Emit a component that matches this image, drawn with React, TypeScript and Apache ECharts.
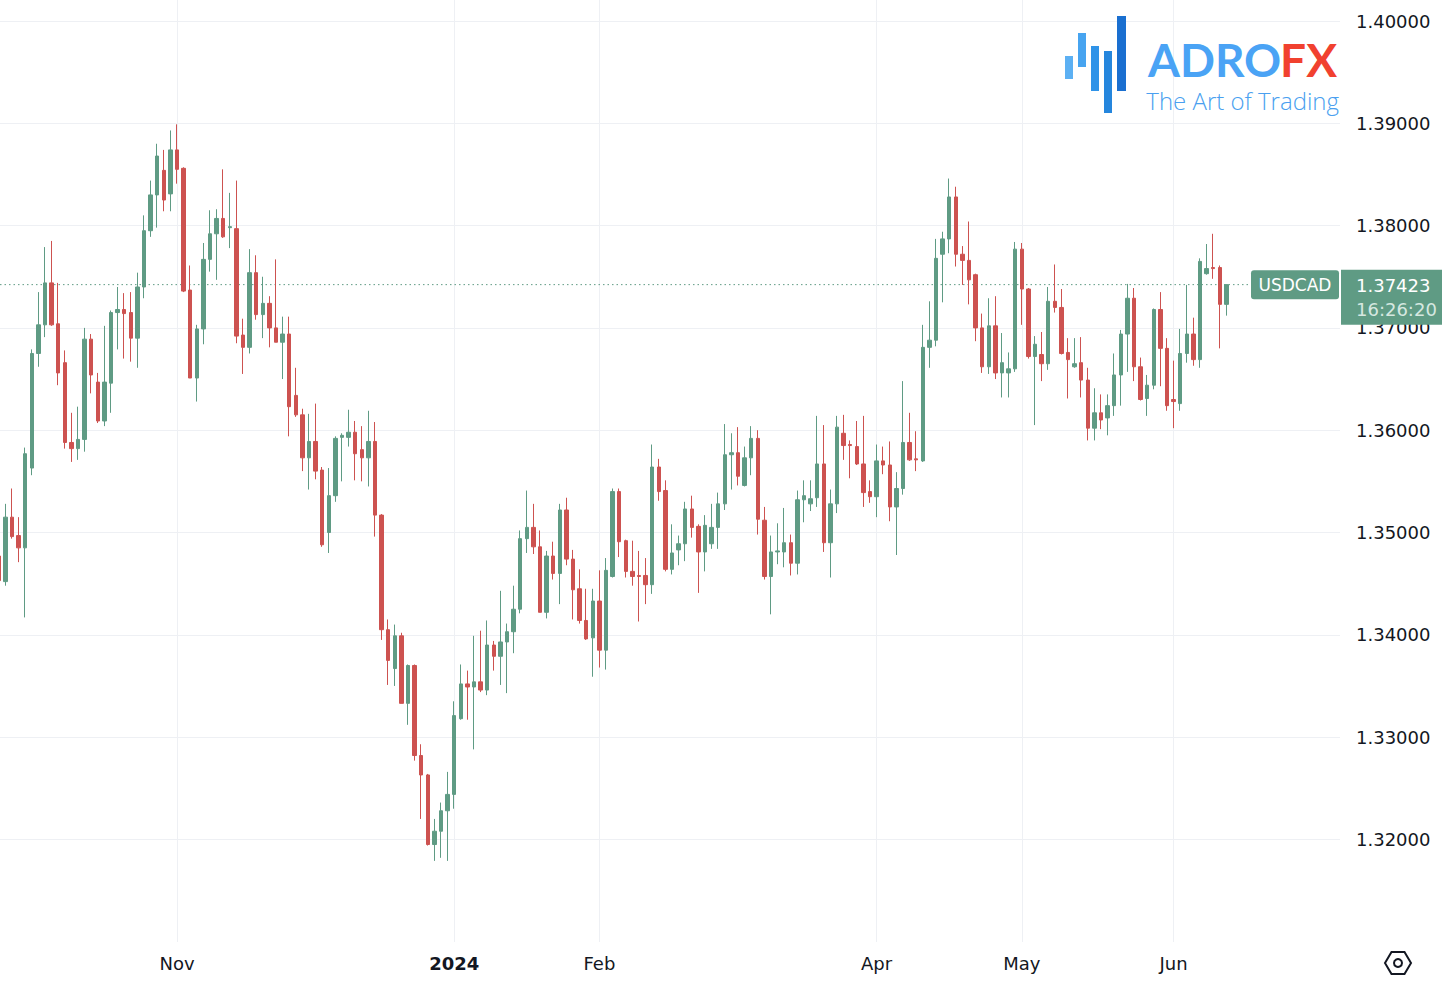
import React, { useEffect, useRef } from "react";
import * as echarts from "echarts";

// ---- data ----
const symbol = "USDCAD";
const lastTime = "16:26:20";
const startDate = "2023-09-25";
const holidays = ["2023-12-25", "2024-01-01"];

// daily candles: [open, high, low, close]
const candles: number[][] = [
  [1.3477, 1.3488, 1.3447, 1.3453],
  [1.3452, 1.3528, 1.3448, 1.3515],
  [1.3515, 1.3543, 1.3494, 1.3496],
  [1.3497, 1.3515, 1.3471, 1.3485],
  [1.3485, 1.3583, 1.3417, 1.3577],
  [1.3563, 1.3679, 1.3556, 1.3675],
  [1.3675, 1.3735, 1.3662, 1.3703],
  [1.3703, 1.3779, 1.3691, 1.3744],
  [1.3744, 1.3785, 1.3702, 1.3703],
  [1.3704, 1.3744, 1.3644, 1.3656],
  [1.3666, 1.3678, 1.3582, 1.3588],
  [1.3588, 1.3617, 1.3569, 1.3582],
  [1.3582, 1.3623, 1.3571, 1.3591],
  [1.3591, 1.37, 1.3579, 1.3689],
  [1.3689, 1.3694, 1.3636, 1.3654],
  [1.3647, 1.3656, 1.3607, 1.3609],
  [1.3609, 1.3702, 1.3604, 1.3647],
  [1.3646, 1.3717, 1.3617, 1.3715],
  [1.3715, 1.374, 1.3679, 1.3718],
  [1.3718, 1.3734, 1.367, 1.3714],
  [1.3715, 1.3735, 1.3667, 1.369],
  [1.369, 1.3754, 1.3661, 1.374],
  [1.374, 1.381, 1.3729, 1.3795],
  [1.3795, 1.3844, 1.3789, 1.383],
  [1.383, 1.388, 1.3798, 1.3868],
  [1.3854, 1.3874, 1.3814, 1.3825],
  [1.3831, 1.3893, 1.3814, 1.3874],
  [1.3874, 1.3899, 1.3841, 1.3855],
  [1.3856, 1.3857, 1.3735, 1.3736],
  [1.3737, 1.3761, 1.3651, 1.3651],
  [1.3651, 1.3703, 1.3628, 1.3699],
  [1.3699, 1.3783, 1.3684, 1.3767],
  [1.3767, 1.3815, 1.3755, 1.3792],
  [1.3792, 1.3816, 1.3747, 1.3807],
  [1.3807, 1.3855, 1.3788, 1.3789],
  [1.3798, 1.3832, 1.3778, 1.3799],
  [1.3797, 1.3844, 1.3685, 1.3692],
  [1.3693, 1.3709, 1.3655, 1.3681],
  [1.3681, 1.3777, 1.3675, 1.3754],
  [1.3754, 1.3771, 1.3708, 1.3713],
  [1.3713, 1.375, 1.369, 1.3724],
  [1.3724, 1.3731, 1.3681, 1.37],
  [1.37, 1.3767, 1.3686, 1.3686],
  [1.3686, 1.3711, 1.365, 1.3694],
  [1.3694, 1.3711, 1.3594, 1.3623],
  [1.3634, 1.3661, 1.3613, 1.3615],
  [1.3615, 1.3621, 1.356, 1.3573],
  [1.3573, 1.3616, 1.3542, 1.3589],
  [1.3589, 1.3626, 1.3552, 1.356],
  [1.3561, 1.3564, 1.3486, 1.3488],
  [1.35, 1.3563, 1.348, 1.3536],
  [1.3536, 1.3594, 1.353, 1.3592],
  [1.3593, 1.3597, 1.355, 1.3595],
  [1.3593, 1.362, 1.3584, 1.3598],
  [1.3598, 1.3609, 1.3551, 1.3577],
  [1.3581, 1.3604, 1.355, 1.3573],
  [1.3573, 1.3619, 1.3545, 1.3589],
  [1.3589, 1.3608, 1.3496, 1.3517],
  [1.3517, 1.3518, 1.3395, 1.3405],
  [1.3405, 1.3415, 1.3351, 1.3375],
  [1.3367, 1.341, 1.335, 1.3399],
  [1.3399, 1.3402, 1.3333, 1.3333],
  [1.3333, 1.3371, 1.3312, 1.337],
  [1.337, 1.3371, 1.3277, 1.3282],
  [1.3282, 1.3293, 1.322, 1.3263],
  [1.3263, 1.3264, 1.3194, 1.3195],
  [1.3195, 1.322, 1.3179, 1.3208],
  [1.3208, 1.3236, 1.3182, 1.3228],
  [1.3228, 1.3266, 1.3179, 1.3244],
  [1.3244, 1.3335, 1.323, 1.3321],
  [1.3318, 1.3371, 1.3317, 1.3352],
  [1.3352, 1.3365, 1.3317, 1.3349],
  [1.3349, 1.3399, 1.3288, 1.3354],
  [1.3354, 1.3404, 1.3344, 1.3346],
  [1.3346, 1.3414, 1.3341, 1.339],
  [1.339, 1.3394, 1.3365, 1.3379],
  [1.3379, 1.3443, 1.3351, 1.3393],
  [1.3393, 1.3411, 1.3343, 1.3403],
  [1.3403, 1.3448, 1.3382, 1.3425],
  [1.3425, 1.3502, 1.3421, 1.3494],
  [1.3494, 1.3541, 1.348, 1.3505],
  [1.3505, 1.3528, 1.3479, 1.3486],
  [1.3486, 1.3502, 1.3422, 1.3422],
  [1.3422, 1.3482, 1.3416, 1.3477],
  [1.3477, 1.3491, 1.3454, 1.346],
  [1.346, 1.3528, 1.343, 1.3522],
  [1.3522, 1.3534, 1.3468, 1.3474],
  [1.3474, 1.3483, 1.3415, 1.3444],
  [1.3445, 1.3464, 1.3411, 1.3414],
  [1.3414, 1.3445, 1.3395, 1.3396],
  [1.3397, 1.3445, 1.3359, 1.3433],
  [1.3433, 1.3463, 1.3368, 1.3385],
  [1.3385, 1.3475, 1.3366, 1.3463],
  [1.3457, 1.3543, 1.3456, 1.354],
  [1.354, 1.3543, 1.3476, 1.3491],
  [1.3492, 1.3493, 1.3456, 1.3462],
  [1.3462, 1.3492, 1.3448, 1.3457],
  [1.3458, 1.3482, 1.3413, 1.3457],
  [1.3458, 1.3475, 1.343, 1.3449],
  [1.3449, 1.3586, 1.344, 1.3564],
  [1.3564, 1.3572, 1.3531, 1.354],
  [1.3541, 1.3551, 1.3462, 1.3464],
  [1.3464, 1.3508, 1.3459, 1.348],
  [1.3483, 1.3497, 1.3468, 1.3489],
  [1.3489, 1.353, 1.3472, 1.3523],
  [1.3523, 1.3536, 1.3495, 1.3505],
  [1.3506, 1.3508, 1.3441, 1.3481],
  [1.3481, 1.3517, 1.3462, 1.3507],
  [1.3489, 1.3528, 1.3484, 1.3505],
  [1.3505, 1.3539, 1.3484, 1.3528],
  [1.3528, 1.3606, 1.3522, 1.3576],
  [1.3576, 1.3597, 1.3542, 1.3578],
  [1.3578, 1.3603, 1.3546, 1.3555],
  [1.3546, 1.3584, 1.3545, 1.3573],
  [1.3573, 1.3604, 1.3556, 1.3592],
  [1.3592, 1.36, 1.3498, 1.3513],
  [1.3512, 1.3525, 1.3454, 1.3457],
  [1.3457, 1.3497, 1.342, 1.3481],
  [1.3481, 1.3509, 1.3469, 1.3482],
  [1.3481, 1.3524, 1.3466, 1.349],
  [1.349, 1.3498, 1.3458, 1.347],
  [1.347, 1.3541, 1.3459, 1.3532],
  [1.3532, 1.3551, 1.351, 1.3536],
  [1.3528, 1.3551, 1.3521, 1.3533],
  [1.3534, 1.3614, 1.3525, 1.3567],
  [1.3567, 1.3605, 1.3481, 1.349],
  [1.349, 1.3542, 1.3456, 1.3528],
  [1.3528, 1.3614, 1.3519, 1.3603],
  [1.3597, 1.3615, 1.3571, 1.3585],
  [1.3586, 1.359, 1.3553, 1.3585],
  [1.3584, 1.3609, 1.3566, 1.3567],
  [1.3567, 1.3614, 1.3525, 1.3539],
  [1.354, 1.3551, 1.3529, 1.3535],
  [1.3535, 1.3586, 1.3515, 1.357],
  [1.357, 1.3584, 1.3557, 1.3566],
  [1.3566, 1.3589, 1.3511, 1.3525],
  [1.3525, 1.3559, 1.3478, 1.3543],
  [1.3543, 1.3648, 1.3537, 1.3588],
  [1.3588, 1.3617, 1.357, 1.3571],
  [1.3572, 1.3599, 1.356, 1.3571],
  [1.357, 1.3703, 1.3569, 1.3681],
  [1.3681, 1.3726, 1.3661, 1.3688],
  [1.3688, 1.3787, 1.3682, 1.3768],
  [1.3772, 1.3794, 1.3725, 1.3787],
  [1.3787, 1.3846, 1.3773, 1.3828],
  [1.3828, 1.3838, 1.376, 1.3772],
  [1.3772, 1.378, 1.3742, 1.3766],
  [1.3766, 1.3804, 1.3723, 1.3747],
  [1.3752, 1.3753, 1.3687, 1.37],
  [1.37, 1.3714, 1.3656, 1.3662],
  [1.3662, 1.3729, 1.3655, 1.3702],
  [1.3702, 1.3731, 1.365, 1.3656],
  [1.3656, 1.3695, 1.3632, 1.3666],
  [1.3656, 1.3676, 1.3632, 1.366],
  [1.366, 1.3784, 1.3657, 1.3777],
  [1.3777, 1.3783, 1.3703, 1.3738],
  [1.3738, 1.3739, 1.367, 1.3672],
  [1.3672, 1.3692, 1.3605, 1.3684],
  [1.3674, 1.3696, 1.3648, 1.3665],
  [1.3665, 1.374, 1.3659, 1.3726],
  [1.3726, 1.3762, 1.3715, 1.372],
  [1.372, 1.3738, 1.3674, 1.3675],
  [1.3676, 1.369, 1.3631, 1.3669],
  [1.3662, 1.369, 1.3661, 1.3665],
  [1.3666, 1.3691, 1.3632, 1.3649],
  [1.3649, 1.3661, 1.359, 1.3602],
  [1.3602, 1.3641, 1.359, 1.3617],
  [1.3617, 1.3635, 1.3601, 1.361],
  [1.3612, 1.3635, 1.3595, 1.3624],
  [1.3624, 1.3675, 1.3614, 1.3654],
  [1.3654, 1.3698, 1.3624, 1.3694],
  [1.3694, 1.3743, 1.3657, 1.3729],
  [1.3729, 1.3739, 1.3648, 1.3662],
  [1.3662, 1.3671, 1.3629, 1.363],
  [1.3631, 1.3654, 1.3614, 1.3644],
  [1.3644, 1.3719, 1.364, 1.3718],
  [1.3718, 1.3735, 1.3643, 1.368],
  [1.368, 1.369, 1.3619, 1.3624],
  [1.363, 1.3668, 1.3602, 1.3628],
  [1.3626, 1.3699, 1.3619, 1.3675],
  [1.3675, 1.3742, 1.3666, 1.3694],
  [1.3694, 1.371, 1.3663, 1.3669],
  [1.3669, 1.3768, 1.3661, 1.3765],
  [1.3753, 1.3782, 1.3752, 1.3758],
  [1.3759, 1.3792, 1.3748, 1.3758],
  [1.3759, 1.3761, 1.368, 1.3723],
  [1.3723, 1.3742, 1.3712, 1.37423],
];

const monthKeys = ["2023-11", "2024-01", "2024-02", "2024-04", "2024-05", "2024-06"];
const monthLabels = ["Nov", "2024", "Feb", "Apr", "May", "Jun"];
const yTicks = [1.32, 1.33, 1.34, 1.35, 1.36, 1.37, 1.38, 1.39, 1.4];

// ---- view / style ----
const W = 1442;
const H = 998;
const PLOT_RIGHT = 1340;
const PLOT_BOTTOM = 942;
const X_MIN = 0.18;
const SLOT = 6.6;
const Y_MAX = 1.402053;
const Y_MIN = 1.309971;
const UP = "#5f9b84";
const DOWN = "#cd5250";
const GRID = "#eef0f4";
const TEXT = "#131722";
const FONT = "DejaVu Sans";

function tradingDays(start: string, count: number, skip: string[]): string[] {
  const out: string[] = [];
  const d = new Date(start + "T00:00:00Z");
  while (out.length < count) {
    const wd = d.getUTCDay();
    const iso = d.toISOString().slice(0, 10);
    if (wd !== 0 && wd !== 6 && skip.indexOf(iso) < 0) out.push(iso);
    d.setUTCDate(d.getUTCDate() + 1);
  }
  return out;
}

export default function App() {
  const ref = useRef<HTMLDivElement>(null);

  useEffect(() => {
    if (!ref.current) return;
    const chart = echarts.init(ref.current, null, { renderer: "svg" });
    const dates = tradingDays(startDate, candles.length, holidays);
    const tickIdx = monthKeys.map((k) => dates.findIndex((d) => d.startsWith(k)));
    const labelOf: Record<number, string> = {};
    tickIdx.forEach((t, i) => (labelOf[t] = monthLabels[i]));
    const data = candles.map((c, i) => [i, c[0], c[3], c[2], c[1]]);
    const last = candles[candles.length - 1][3];
    const xMax = X_MIN + PLOT_RIGHT / SLOT;

    chart.setOption({
      animation: false,
      backgroundColor: "#ffffff",
      grid: { left: 0, right: W - PLOT_RIGHT, top: 0, bottom: H - PLOT_BOTTOM },
      xAxis: {
        type: "value",
        min: X_MIN,
        max: xMax,
        axisLine: { show: false },
        axisTick: { show: false, customValues: tickIdx },
        splitLine: { show: true, lineStyle: { color: GRID, width: 1 } },
        axisLabel: {
          customValues: tickIdx,
          margin: 12,
          fontSize: 18,
          fontFamily: FONT,
          color: TEXT,
          formatter: (v: number) => {
            const s = labelOf[Math.round(v)] || "";
            return /^\d{4}$/.test(s) ? "{b|" + s + "}" : s;
          },
          rich: { b: { fontWeight: "bold", fontSize: 18, fontFamily: FONT, color: TEXT } },
        },
      },
      yAxis: {
        type: "value",
        position: "right",
        min: Y_MIN,
        max: Y_MAX,
        axisLine: { show: false },
        axisTick: { show: false, customValues: yTicks },
        splitLine: { show: true, lineStyle: { color: GRID, width: 1 } },
        axisLabel: {
          customValues: yTicks,
          margin: 16,
          fontSize: 18,
          fontFamily: FONT,
          color: TEXT,
          formatter: (v: number) => v.toFixed(5),
        },
      },
      series: [
        {
          type: "candlestick",
          data,
          barWidth: 4,
          silent: true,
          z: 3,
          itemStyle: {
            color: UP,
            color0: DOWN,
            borderColor: UP,
            borderColor0: DOWN,
            borderWidth: 1,
          },
        },
      ],
    });

    const py = chart.convertToPixel({ yAxisIndex: 0 }, last) as number;
    const barColors = ["#5cb0f3", "#47a4f0", "#2f93e8", "#2586dd", "#1a6fd0"];
    const bars = [
      [1065, 56, 8, 23],
      [1078, 33, 8, 34],
      [1091, 46, 8, 45],
      [1104, 51, 8, 62],
      [1117, 16, 9, 75],
    ];
    const hx = 1398;
    const hy = 963;
    chart.setOption({
      graphic: [
        {
          type: "line",
          z: 1,
          shape: { x1: 0, y1: py, x2: 1251, y2: py },
          style: { stroke: UP, lineWidth: 1, lineDash: [1.5, 3] },
        },
        ...bars.map((b, i) => ({
          type: "rect",
          z: 50,
          shape: { x: b[0], y: b[1], width: b[2], height: b[3] },
          style: { fill: barColors[i] },
        })),
        {
          type: "text",
          z: 50,
          x: 1148,
          y: 59,
          style: {
            text: "ADRO",
            fill: "#4aa3f5",
            font: "bold 46px Lato",
            verticalAlign: "middle",
            align: "left",
          },
        },
        {
          type: "text",
          z: 50,
          x: 1337,
          y: 59,
          style: {
            text: "FX",
            fill: "#f1412f",
            font: "bold 46px Lato",
            verticalAlign: "middle",
            align: "right",
          },
        },
        {
          type: "text",
          z: 50,
          x: 1339,
          y: 100,
          style: {
            text: "The Art of Trading",
            fill: "#4a9ff0",
            font: "300 24px 'Open Sans'",
            verticalAlign: "middle",
            align: "right",
          },
        },
        {
          type: "rect",
          z: 60,
          shape: { x: 1251, y: py - 14.5, width: 88, height: 29, r: 3 },
          style: { fill: UP },
        },
        {
          type: "text",
          z: 61,
          x: 1295,
          y: py + 0.5,
          style: {
            text: symbol,
            fill: "#ffffff",
            font: `17px '${FONT}'`,
            align: "center",
            verticalAlign: "middle",
          },
        },
        {
          type: "rect",
          z: 60,
          shape: { x: 1341, y: py - 15, width: 101, height: 55 },
          style: { fill: UP },
        },
        {
          type: "text",
          z: 61,
          x: 1356,
          y: py + 0.5,
          style: {
            text: last.toFixed(5),
            fill: "#ffffff",
            font: `18px '${FONT}'`,
            align: "left",
            verticalAlign: "middle",
          },
        },
        {
          type: "text",
          z: 61,
          x: 1356,
          y: py + 24.5,
          style: {
            text: lastTime,
            fill: "#d6e8e0",
            font: `18px '${FONT}'`,
            align: "left",
            verticalAlign: "middle",
          },
        },
        {
          type: "polygon",
          z: 50,
          shape: {
            points: [
              [hx - 13, hy],
              [hx - 6.5, hy - 11],
              [hx + 6.5, hy - 11],
              [hx + 13, hy],
              [hx + 6.5, hy + 11],
              [hx - 6.5, hy + 11],
            ],
          },
          style: { fill: "none", stroke: TEXT, lineWidth: 2 },
        },
        {
          type: "circle",
          z: 50,
          shape: { cx: hx, cy: hy, r: 4 },
          style: { fill: "none", stroke: TEXT, lineWidth: 2 },
        },
      ],
    });

    return () => chart.dispose();
  }, []);

  return (
    <div
      ref={ref}
      style={{ position: "fixed", left: 0, top: 0, width: W, height: H, background: "#fff" }}
    />
  );
}
